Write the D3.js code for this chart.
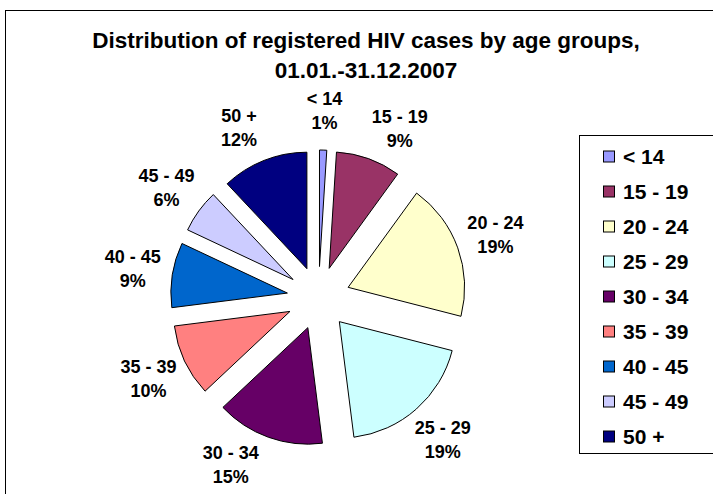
<!DOCTYPE html>
<html>
<head>
<meta charset="utf-8">
<script src="https://cdn.jsdelivr.net/npm/d3@7"></script>
<style>
  html, body { margin: 0; padding: 0; background: #fff; }
  svg { display: block; font-family: "Liberation Sans", Arial, sans-serif; }
</style>
</head>
<body>
<svg id="chart" width="713" height="494"></svg>
<script>
// ---- data ----
const categories = ["< 14", "15 - 19", "20 - 24", "25 - 29", "30 - 34", "35 - 39", "40 - 45", "45 - 49", "50 +"];
const shares = [1, 9, 19, 19, 15, 10, 9, 6, 12];
const palette = ["#9999FF", "#993366", "#FFFFCC", "#CCFFFF", "#660066", "#FF8080", "#0066CC", "#CCCCFF", "#000080"];
const titleLines = ["Distribution of registered HIV cases by age groups,", "01.01.-31.12.2007"];

// ---- layout ----
const W = 713, H = 494;
const cx = 318.5, cy = 298, radius = 116.5, explode = 31.5, labelR = 188;
const labelNudgeDeg = { "15 - 19": 5.8, "30 - 34": 8, "50 +": -3.4 };

const svg = d3.select("#chart");
svg.append("rect").attr("width", W).attr("height", H).attr("fill", "#fff");

// chart border (cut by the window on the right/bottom)
svg.append("rect")
  .attr("x", 5.5).attr("y", 10.5).attr("width", 730).attr("height", 500)
  .attr("fill", "none").attr("stroke", "#000").attr("stroke-width", 1);

// title
const title = svg.append("text")
  .attr("text-anchor", "middle")
  .attr("font-weight", "bold").attr("font-size", 22.5).attr("fill", "#000");
titleLines.forEach((t, i) => {
  title.append("tspan").attr("x", 366).attr("y", 48 + i * 30).text(t);
});

// pie
const data = categories.map((c, i) => ({ cat: c, value: shares[i] }));
const pie = d3.pie().value(d => d.value).sort(null).startAngle(0).endAngle(2 * Math.PI);
const arcs = pie(data);
const arc = d3.arc().innerRadius(0).outerRadius(radius);
const color = d3.scaleOrdinal().domain(categories).range(palette);

const g = svg.append("g").attr("transform", `translate(${cx},${cy})`);
g.selectAll("path.slice")
  .data(arcs)
  .join("path")
  .attr("class", "slice")
  .attr("d", arc)
  .attr("transform", d => {
    const m = (d.startAngle + d.endAngle) / 2;
    return `translate(${explode * Math.sin(m)},${-explode * Math.cos(m)})`;
  })
  .attr("fill", d => color(d.data.cat))
  .attr("stroke", "#000")
  .attr("stroke-width", 1)
  .attr("stroke-linejoin", "round");

// data labels
const labels = g.selectAll("text.lbl")
  .data(arcs)
  .join("text")
  .attr("class", "lbl")
  .attr("text-anchor", "middle")
  .attr("font-weight", "bold").attr("font-size", 18).attr("fill", "#000")
  .attr("transform", d => {
    const m = (d.startAngle + d.endAngle) / 2 + (labelNudgeDeg[d.data.cat] || 0) * Math.PI / 180;
    return `translate(${labelR * Math.sin(m)},${-labelR * Math.cos(m)})`;
  });
labels.append("tspan").attr("x", 0).attr("y", -5.5).text(d => d.data.cat);
labels.append("tspan").attr("x", 0).attr("y", 18.5).text(d => d.data.value + "%");

// legend
const legend = svg.append("g");
legend.append("rect")
  .attr("x", 579.5).attr("y", 135.5).attr("width", 160).attr("height", 318)
  .attr("fill", "#fff").attr("stroke", "#000").attr("stroke-width", 1);
const rowY = d3.scalePoint().domain(categories).range([156.5, 436.5]);
const items = legend.selectAll("g.item").data(categories).join("g").attr("class", "item")
  .attr("transform", c => `translate(0,${rowY(c)})`);
items.append("rect")
  .attr("x", 603.5).attr("y", -5.5).attr("width", 11).attr("height", 11)
  .attr("fill", c => color(c)).attr("stroke", "#000").attr("stroke-width", 1);
items.append("text")
  .attr("x", 623).attr("y", 7.5)
  .attr("font-weight", "bold").attr("font-size", 21).attr("fill", "#000")
  .text(c => c);
</script>
</body>
</html>
